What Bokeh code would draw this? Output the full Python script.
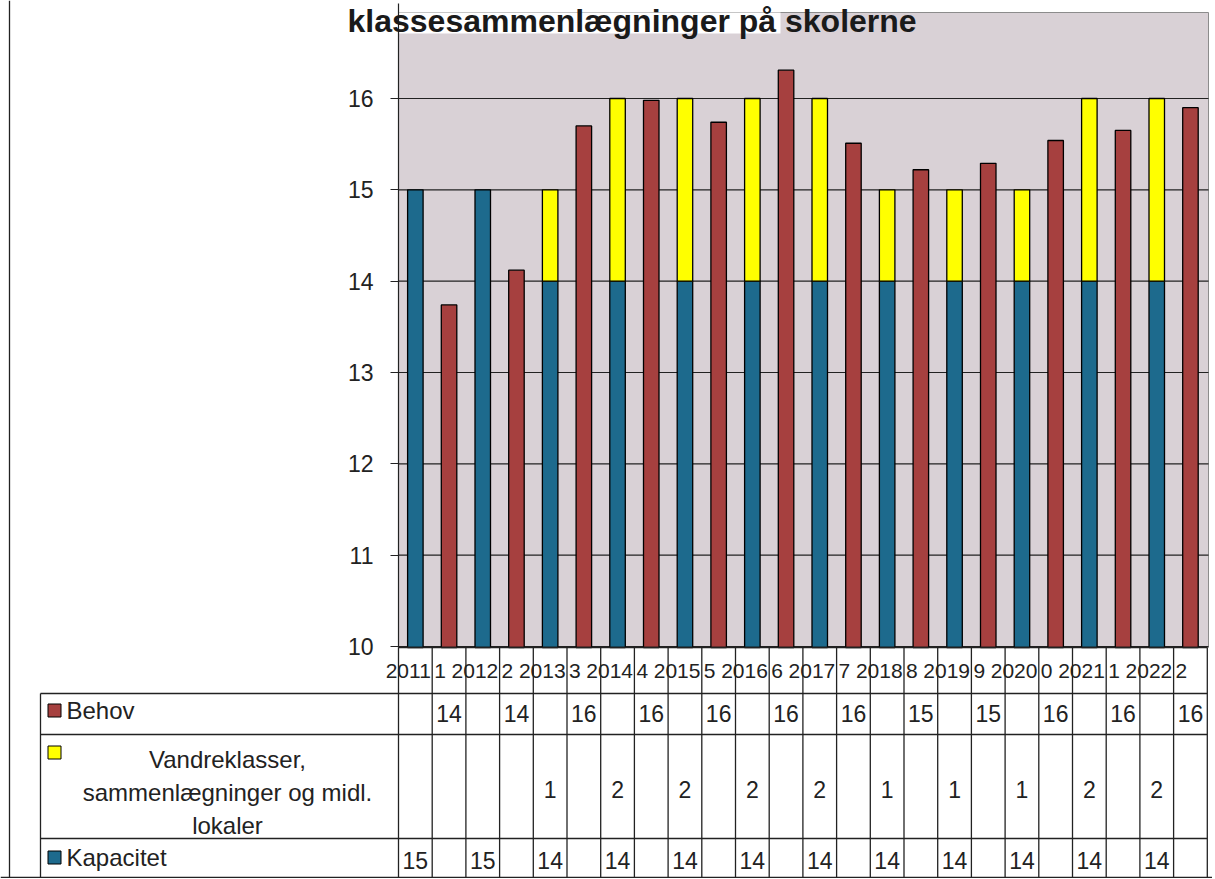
from bokeh.plotting import figure
from bokeh.models import Range1d, FixedTicker, Label, LinearAxis
from bokeh.embed import file_html
from bokeh.resources import INLINE
from bokeh.core.properties import value

# ---------------- data ----------------
years = ["2011", "2012", "2013", "2014", "2015", "2016",
         "2017", "2018", "2019", "2020", "2021", "2022"]
kapacitet = [15, 15, 14, 14, 14, 14, 14, 14, 14, 14, 14, 14]
vandreklasser = [0, 0, 1, 2, 2, 2, 2, 1, 1, 1, 2, 2]
behov = [13.74, 14.12, 15.70, 15.98, 15.74, 16.31,
         15.51, 15.22, 15.29, 15.54, 15.65, 15.90]
y_ticks = [10, 11, 12, 13, 14, 15, 16]
title_text = "klassesammenlægninger på skolerne"
series_names = ["Behov",
                "Vandreklasser,\nsammenlægninger og midl.\nlokaler",
                "Kapacitet"]

# ---------------- style / layout ----------------
TEAL = "#1D6A8D"
RED = "#A6403F"
YEL = "#FFFF00"
BG = "#D9D1D6"
INK = "#222222"
FONT = "Liberation Sans"

W, H = 1212, 878
AX_PX = 398          # page x of the value axis
CW = 33.7            # column width in px
n_cols = 2 * len(years)
PPU = (646 - 98) / 6.0   # px per value unit
Y_TOP = 16 + 98 / PPU
Y_BOT = Y_TOP - H / PPU


def ax(px):   # page x -> column coordinate
    return (px - AX_PX) / CW


def yv(py):   # page y -> value coordinate
    return Y_TOP - py / PPU


p = figure(width=W, height=H,
           x_range=Range1d(ax(0), ax(W)), y_range=Range1d(Y_BOT, Y_TOP),
           output_backend="svg", toolbar_location=None,
           x_axis_location=None, y_axis_location=None,
           min_border_left=0, min_border_right=0, min_border_top=0, min_border_bottom=0,
           background_fill_color="white", border_fill_color="white",
           outline_line_color=None)
p.grid.visible = False
p.extra_y_ranges = {"tbl": Range1d(H, 0)}   # table rows in page pixels

# plot area
c_left, c_right = 0, ax(1208)
c_bot, c_top = yv(647), yv(12)
p.quad(left=[c_left], right=[c_right], bottom=[c_bot], top=[c_top],
       fill_color=BG, line_color="#8c8c8c", line_width=1)
# white patch behind the title's first part
p.quad(left=[c_left], right=[ax(780)], bottom=[yv(33)], top=[c_top],
       fill_color="white", line_color=None)
# grid lines
p.segment(x0=[c_left] * len(y_ticks), y0=y_ticks, x1=[c_right] * len(y_ticks), y1=y_ticks,
          line_color=INK, line_width=1.2)

# value axis
yaxis = LinearAxis(fixed_location=0, ticker=FixedTicker(ticks=y_ticks),
                   bounds=(c_bot, yv(3)))
yaxis.minor_tick_line_color = None
yaxis.major_tick_out = 8
yaxis.major_tick_in = 0
yaxis.major_tick_line_color = INK
yaxis.axis_line_color = INK
yaxis.axis_line_width = 1.2
yaxis.major_label_standoff = 17
yaxis.major_label_text_font = FONT
yaxis.major_label_text_font_size = "23px"
yaxis.major_label_text_color = INK
p.add_layout(yaxis, "left")

# bars
kx = [2 * i + 0.5 for i in range(len(years))]
bx = [2 * i + 1.5 for i in range(len(years))]
BW = 0.46
p.vbar(x=kx, bottom=c_bot, top=kapacitet, width=BW, fill_color=TEAL,
       line_color="black", line_width=1.3)
vx = [x for x, v in zip(kx, vandreklasser) if v > 0]
vb = [k for k, v in zip(kapacitet, vandreklasser) if v > 0]
vt = [k + v for k, v in zip(kapacitet, vandreklasser) if v > 0]
p.vbar(x=vx, bottom=vb, top=vt, width=BW, fill_color=YEL,
       line_color="black", line_width=1.3)
p.vbar(x=bx, bottom=c_bot, top=behov, width=BW, fill_color=RED,
       line_color="black", line_width=1.3)

title = Label(x=ax(347), y=yv(20), text=title_text, text_font=FONT,
              text_font_style="bold", text_font_size="32px", text_color="#1a1a1a",
              text_baseline="middle", text_align="left")
p.add_layout(title)

# ---------------- data table ----------------
xl = ax(40)
r0, r1, r2, r3, r4 = 647, 693, 734, 838, 877
hx0 = [0, xl, xl, xl, ax(0)]
hx1 = [n_cols, n_cols, n_cols, n_cols, ax(W)]
hy = [r0, r1, r2, r3, r4]
p.segment(x0=hx0, y0=hy, x1=hx1, y1=hy, line_color=INK, line_width=1.3, y_range_name="tbl")
vxs = list(range(n_cols + 1)) + [xl, ax(9)]
vy0 = [r0] * (n_cols + 1) + [r1, 0]
vy1 = [r4] * (n_cols + 2) + [H]
p.segment(x0=vxs, y0=vy0, x1=vxs, y1=vy1, line_color=INK, line_width=1.3, y_range_name="tbl")

# category labels
odd_edges = [2 * i + 1 for i in range(len(years))]
p.text(x=[e - 0.04 for e in odd_edges], y=[670] * len(years), text=years,
       text_font=value(FONT), text_font_size="21px", text_color=INK,
       text_align="right", text_baseline="middle", y_range_name="tbl")
p.text(x=[e + 0.06 for e in odd_edges], y=[670] * len(years), text=[y[-1] for y in years],
       text_font=value(FONT), text_font_size="21px", text_color=INK,
       text_align="left", text_baseline="middle", y_range_name="tbl")

# values
p.text(x=bx, y=[713] * len(years), text=["%.0f" % b for b in behov],
       text_font=value(FONT), text_font_size="23px", text_color=INK,
       text_align="center", text_baseline="middle", y_range_name="tbl")
vtxt_x = [x for x, v in zip(kx, vandreklasser) if v > 0]
vtxt = [str(v) for v in vandreklasser if v > 0]
p.text(x=vtxt_x, y=[789] * len(vtxt), text=vtxt,
       text_font=value(FONT), text_font_size="23px", text_color=INK,
       text_align="center", text_baseline="middle", y_range_name="tbl")
p.text(x=kx, y=[860] * len(years), text=[str(k) for k in kapacitet],
       text_font=value(FONT), text_font_size="23px", text_color=INK,
       text_align="center", text_baseline="middle", y_range_name="tbl")

# legend column
p.scatter(x=[ax(54)] * 3, y=[710, 752, 857], marker="square", size=13,
          fill_color=[RED, YEL, TEAL], line_color="black", line_width=1, y_range_name="tbl")
p.text(x=[ax(66), ax(66)], y=[710, 857], text=[series_names[0], series_names[2]],
       text_font=value(FONT), text_font_size="24px", text_color=INK,
       text_align="left", text_baseline="middle", y_range_name="tbl")
p.text(x=[ax(227)], y=[792], text=[series_names[1]],
       text_font=value(FONT), text_font_size="24px", text_color=INK,
       text_align="center", text_baseline="middle", text_line_height=1.22,
       y_range_name="tbl")

open("out.html", "w").write(file_html(p, INLINE))
